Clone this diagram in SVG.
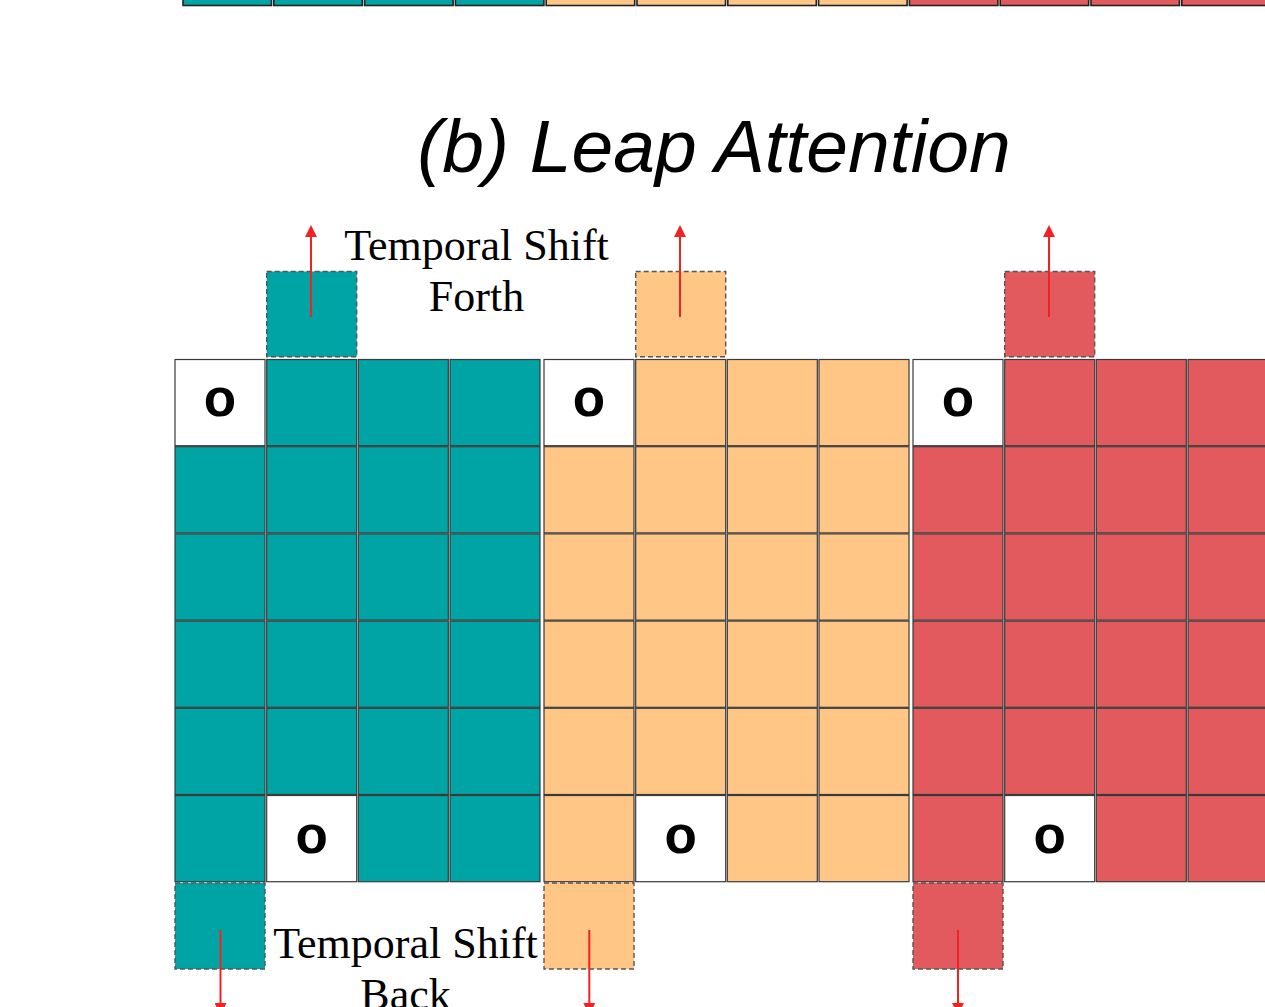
<svg xmlns="http://www.w3.org/2000/svg" width="1265" height="1007" viewBox="0 0 1265 1007">
<style>
.t{fill:#00A4A4}.or{fill:#FFC686}.r{fill:#E35A5E}.w{fill:#FFFFFF}
.cell{stroke:#3a3a3a;stroke-width:1.2}
.top{stroke:#222;stroke-width:1.6}
.dash{stroke:#555;stroke-width:1.4;stroke-dasharray:5 3}
.o{font-family:"Liberation Sans",Arial,sans-serif;font-weight:bold;font-size:53px;text-anchor:middle;fill:#000}
.lbl{font-family:"Liberation Serif","Times New Roman",serif;font-size:44px;text-anchor:middle;fill:#000}
.title{font-family:"Liberation Sans",Arial,sans-serif;font-style:italic;font-size:75px;text-anchor:middle;fill:#000}
.arr{stroke:#F22222;stroke-width:2;fill:none}
</style>
<defs>
<marker id="ah" markerUnits="userSpaceOnUse" markerWidth="12" markerHeight="12" viewBox="0 0 12 12" refX="0" refY="6" orient="auto">
<path d="M0,0 L12,6 L0,12 z" fill="#F22222"/>
</marker>
</defs>
<rect width="1265" height="1007" fill="#fff"/>

<g id="top-strip">
<rect class="t top" x="183" y="-80" width="88.5" height="85.5"/>
<rect class="t top" x="273.8" y="-80" width="88.5" height="85.5"/>
<rect class="t top" x="364.6" y="-80" width="88.5" height="85.5"/>
<rect class="t top" x="455.4" y="-80" width="88.5" height="85.5"/>
<rect class="or top" x="546.2" y="-80" width="88.5" height="85.5"/>
<rect class="or top" x="637" y="-80" width="88.5" height="85.5"/>
<rect class="or top" x="727.8" y="-80" width="88.5" height="85.5"/>
<rect class="or top" x="818.6" y="-80" width="88.5" height="85.5"/>
<rect class="r top" x="909.4" y="-80" width="88.5" height="85.5"/>
<rect class="r top" x="1000.2" y="-80" width="88.5" height="85.5"/>
<rect class="r top" x="1091" y="-80" width="88.5" height="85.5"/>
<rect class="r top" x="1181.8" y="-80" width="88.5" height="85.5"/>
</g>

<g id="title"><text class="title" x="714" y="172">(b) Leap Attention</text></g>

<g id="group-teal">
<rect class="w cell" x="175" y="359.5" width="90" height="86.2"/>
<rect class="t cell" x="266.7" y="359.5" width="90" height="86.2"/>
<rect class="t cell" x="358.3" y="359.5" width="90" height="86.2"/>
<rect class="t cell" x="450" y="359.5" width="90" height="86.2"/>
<rect class="t cell" x="175" y="446.7" width="90" height="86.2"/>
<rect class="t cell" x="266.7" y="446.7" width="90" height="86.2"/>
<rect class="t cell" x="358.3" y="446.7" width="90" height="86.2"/>
<rect class="t cell" x="450" y="446.7" width="90" height="86.2"/>
<rect class="t cell" x="175" y="533.9" width="90" height="86.2"/>
<rect class="t cell" x="266.7" y="533.9" width="90" height="86.2"/>
<rect class="t cell" x="358.3" y="533.9" width="90" height="86.2"/>
<rect class="t cell" x="450" y="533.9" width="90" height="86.2"/>
<rect class="t cell" x="175" y="621.1" width="90" height="86.2"/>
<rect class="t cell" x="266.7" y="621.1" width="90" height="86.2"/>
<rect class="t cell" x="358.3" y="621.1" width="90" height="86.2"/>
<rect class="t cell" x="450" y="621.1" width="90" height="86.2"/>
<rect class="t cell" x="175" y="708.3" width="90" height="86.2"/>
<rect class="t cell" x="266.7" y="708.3" width="90" height="86.2"/>
<rect class="t cell" x="358.3" y="708.3" width="90" height="86.2"/>
<rect class="t cell" x="450" y="708.3" width="90" height="86.2"/>
<rect class="t cell" x="175" y="795.5" width="90" height="86.2"/>
<rect class="w cell" x="266.7" y="795.5" width="90" height="86.2"/>
<rect class="t cell" x="358.3" y="795.5" width="90" height="86.2"/>
<rect class="t cell" x="450" y="795.5" width="90" height="86.2"/>
<text class="o" x="220" y="415.5">o</text>
<text class="o" x="311.7" y="852.5">o</text>
<rect class="t dash" x="266.7" y="271.5" width="90" height="85.3"/>
<rect class="t dash" x="175" y="883" width="90" height="86"/>
</g>

<g id="group-orange">
<rect class="w cell" x="544" y="359.5" width="90" height="86.2"/>
<rect class="or cell" x="635.7" y="359.5" width="90" height="86.2"/>
<rect class="or cell" x="727.3" y="359.5" width="90" height="86.2"/>
<rect class="or cell" x="819" y="359.5" width="90" height="86.2"/>
<rect class="or cell" x="544" y="446.7" width="90" height="86.2"/>
<rect class="or cell" x="635.7" y="446.7" width="90" height="86.2"/>
<rect class="or cell" x="727.3" y="446.7" width="90" height="86.2"/>
<rect class="or cell" x="819" y="446.7" width="90" height="86.2"/>
<rect class="or cell" x="544" y="533.9" width="90" height="86.2"/>
<rect class="or cell" x="635.7" y="533.9" width="90" height="86.2"/>
<rect class="or cell" x="727.3" y="533.9" width="90" height="86.2"/>
<rect class="or cell" x="819" y="533.9" width="90" height="86.2"/>
<rect class="or cell" x="544" y="621.1" width="90" height="86.2"/>
<rect class="or cell" x="635.7" y="621.1" width="90" height="86.2"/>
<rect class="or cell" x="727.3" y="621.1" width="90" height="86.2"/>
<rect class="or cell" x="819" y="621.1" width="90" height="86.2"/>
<rect class="or cell" x="544" y="708.3" width="90" height="86.2"/>
<rect class="or cell" x="635.7" y="708.3" width="90" height="86.2"/>
<rect class="or cell" x="727.3" y="708.3" width="90" height="86.2"/>
<rect class="or cell" x="819" y="708.3" width="90" height="86.2"/>
<rect class="or cell" x="544" y="795.5" width="90" height="86.2"/>
<rect class="w cell" x="635.7" y="795.5" width="90" height="86.2"/>
<rect class="or cell" x="727.3" y="795.5" width="90" height="86.2"/>
<rect class="or cell" x="819" y="795.5" width="90" height="86.2"/>
<text class="o" x="589" y="415.5">o</text>
<text class="o" x="680.7" y="852.5">o</text>
<rect class="or dash" x="635.7" y="271.5" width="90" height="85.3"/>
<rect class="or dash" x="544" y="883" width="90" height="86"/>
</g>

<g id="group-red">
<rect class="w cell" x="913" y="359.5" width="90" height="86.2"/>
<rect class="r cell" x="1004.7" y="359.5" width="90" height="86.2"/>
<rect class="r cell" x="1096.3" y="359.5" width="90" height="86.2"/>
<rect class="r cell" x="1188" y="359.5" width="90" height="86.2"/>
<rect class="r cell" x="913" y="446.7" width="90" height="86.2"/>
<rect class="r cell" x="1004.7" y="446.7" width="90" height="86.2"/>
<rect class="r cell" x="1096.3" y="446.7" width="90" height="86.2"/>
<rect class="r cell" x="1188" y="446.7" width="90" height="86.2"/>
<rect class="r cell" x="913" y="533.9" width="90" height="86.2"/>
<rect class="r cell" x="1004.7" y="533.9" width="90" height="86.2"/>
<rect class="r cell" x="1096.3" y="533.9" width="90" height="86.2"/>
<rect class="r cell" x="1188" y="533.9" width="90" height="86.2"/>
<rect class="r cell" x="913" y="621.1" width="90" height="86.2"/>
<rect class="r cell" x="1004.7" y="621.1" width="90" height="86.2"/>
<rect class="r cell" x="1096.3" y="621.1" width="90" height="86.2"/>
<rect class="r cell" x="1188" y="621.1" width="90" height="86.2"/>
<rect class="r cell" x="913" y="708.3" width="90" height="86.2"/>
<rect class="r cell" x="1004.7" y="708.3" width="90" height="86.2"/>
<rect class="r cell" x="1096.3" y="708.3" width="90" height="86.2"/>
<rect class="r cell" x="1188" y="708.3" width="90" height="86.2"/>
<rect class="r cell" x="913" y="795.5" width="90" height="86.2"/>
<rect class="w cell" x="1004.7" y="795.5" width="90" height="86.2"/>
<rect class="r cell" x="1096.3" y="795.5" width="90" height="86.2"/>
<rect class="r cell" x="1188" y="795.5" width="90" height="86.2"/>
<text class="o" x="958" y="415.5">o</text>
<text class="o" x="1049.7" y="852.5">o</text>
<rect class="r dash" x="1004.7" y="271.5" width="90" height="85.3"/>
<rect class="r dash" x="913" y="883" width="90" height="86"/>
</g>

<g id="labels">
<text class="lbl" x="476.5" y="260">Temporal Shift</text>
<text class="lbl" x="476.5" y="311">Forth</text>
<text class="lbl" x="405.5" y="958">Temporal Shift</text>
<text class="lbl" x="405.5" y="1009">Back</text>
</g>

<g id="connectors">
<line class="arr" x1="311" y1="317" x2="311" y2="237" marker-end="url(#ah)"/>
<line class="arr" x1="680" y1="317" x2="680" y2="237" marker-end="url(#ah)"/>
<line class="arr" x1="1049" y1="317" x2="1049" y2="237" marker-end="url(#ah)"/>
<line class="arr" x1="220.5" y1="930" x2="220.5" y2="1003" marker-end="url(#ah)"/>
<line class="arr" x1="589.3" y1="930" x2="589.3" y2="1003" marker-end="url(#ah)"/>
<line class="arr" x1="958" y1="930" x2="958" y2="1003" marker-end="url(#ah)"/>
</g>
</svg>
